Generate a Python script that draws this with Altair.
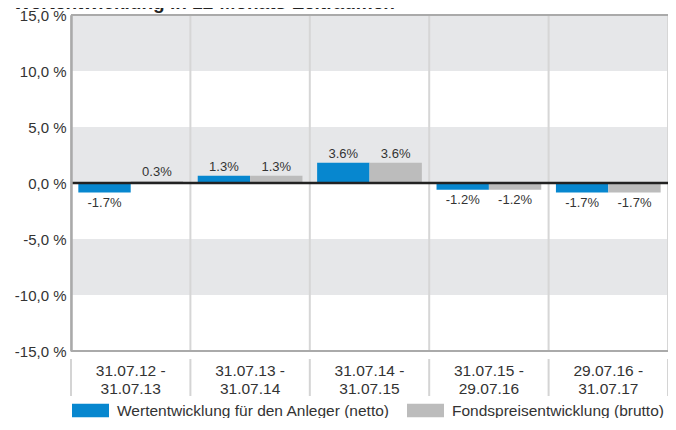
import altair as alt
import pandas as pd

title_text = "Wertentwicklung in 12-Monats-Zeiträumen"
period_start = ["31.07.12", "31.07.13", "31.07.14", "31.07.15", "29.07.16"]
period_end = ["31.07.13", "31.07.14", "31.07.15", "29.07.16", "31.07.17"]
netto = [-1.7, 1.3, 3.6, -1.2, -1.7]
brutto = [0.3, 1.3, 3.6, -1.2, -1.7]
series_names = ["Wertentwicklung für den Anleger (netto)", "Fondspreisentwicklung (brutto)"]
series_colors = ["#0787cf", "#bcbcbc"]
y_ticks = [-15, -10, -5, 0, 5, 10, 15]
band_lo = [10, 0, -10]
band_hi = [15, 5, -5]
border_values = [15, -15]

W, H = 597, 336
periods = [f"{s} - {e}" for s, e in zip(period_start, period_end)]

rows = []
for p, n, b in zip(periods, netto, brutto):
    for name, v in zip(series_names, (n, b)):
        rows.append({"period": p, "series": name, "value": v, "label": f"{v:.1f}%"})
df = pd.DataFrame(rows)
cat_df = pd.DataFrame({"period": periods})
band_df = pd.DataFrame({"lo": band_lo, "hi": band_hi})
border_df = pd.DataFrame({"b": border_values})
zero_df = pd.DataFrame({"z": [0]})
title_df = pd.DataFrame({"t": [title_text]})

axis_dom = alt.Scale(domain=[-15, 15], nice=False, zero=False)
bar_dom = alt.Scale(domain=[-30, 30], nice=False, zero=False)

x_axis = alt.Axis(
    title=None,
    labelExpr="[split(datum.label, ' - ')[0] + ' -', split(datum.label, ' - ')[1]]",
    labelAngle=0, labelFontSize=15.5, labelColor="#333333", labelLineHeight=18,
    domain=False, grid=False, ticks=False, labelPadding=12,
)
x_scale = alt.Scale(paddingInner=0, paddingOuter=0)

def xenc(**kw):
    return alt.X("period:N", sort=periods, scale=x_scale, axis=x_axis, **kw)

bands = alt.Chart(band_df).mark_rect(color="#e6e7e9").encode(
    x=alt.value(0), x2=alt.value(W),
    y=alt.Y("lo:Q", scale=axis_dom,
            axis=alt.Axis(title=None, values=y_ticks, ticks=False, grid=False,
                          domainColor="#aaaaaa", domainWidth=2.5, labelFontSize=15,
                          labelColor="#333333", labelPadding=5, zindex=1,
                          labelExpr="(datum.value < 0 ? '-' : '') + replace(format(abs(datum.value), '.1f'), '.', ',') + ' %'")),
    y2="hi:Q",
)

last_filter = f"datum.period == '{periods[-1]}'"

# category separators inside the plot
vrules = alt.Chart(cat_df).mark_rule(color="#d6d6d6", strokeWidth=2).encode(
    x=xenc(bandPosition=0),
)
vrules_end = alt.Chart(cat_df).transform_filter(last_filter).mark_rule(
    color="#d6d6d6", strokeWidth=2).encode(x=xenc(bandPosition=1))

# category separators in the label row below the plot
sep = alt.Chart(cat_df).mark_rule(color="#d4d4d4", strokeWidth=2).encode(
    x=xenc(bandPosition=0), y=alt.value(H + 8), y2=alt.value(H + 45),
)
sep_end = alt.Chart(cat_df).transform_filter(last_filter).mark_rule(
    color="#d4d4d4", strokeWidth=2).encode(
    x=xenc(bandPosition=1), y=alt.value(H + 8), y2=alt.value(H + 45),
)

borders = alt.Chart(border_df).mark_rule(color="#aaaaaa", strokeWidth=2).encode(
    y=alt.Y("b:Q", scale=axis_dom, axis=None),
)

offset_enc = alt.XOffset("series:N", sort=series_names,
                         scale=alt.Scale(paddingInner=0, paddingOuter=0.14))

bars = alt.Chart(df).mark_bar(opacity=1).encode(
    x=xenc(),
    xOffset=offset_enc,
    y=alt.Y("value:Q", scale=bar_dom, axis=None),
    color=alt.Color("series:N", sort=series_names,
                    scale=alt.Scale(domain=series_names, range=series_colors),
                    legend=alt.Legend(orient="none", legendX=1, legendY=377,
                                      direction="horizontal", title=None,
                                      symbolType="M-1,-0.36L1,-0.36L1,0.36L-1,0.36Z",
                                      symbolSize=1369, symbolStrokeWidth=0,
                                      symbolOpacity=1,
                                      labelFontSize=15.5, labelColor="#333333",
                                      labelOffset=8, columnPadding=17,
                                      labelLimit=400)),
)

text_pos = alt.Chart(df).transform_filter("datum.value >= 0").mark_text(
    baseline="bottom", dy=-2, fontSize=13, color="#333333").encode(
    x=xenc(), xOffset=offset_enc,
    y=alt.Y("value:Q", scale=bar_dom, axis=None),
    text="label:N",
)
text_neg = alt.Chart(df).transform_filter("datum.value < 0").mark_text(
    baseline="top", dy=4, fontSize=13, color="#333333").encode(
    x=xenc(), xOffset=offset_enc,
    y=alt.Y("value:Q", scale=bar_dom, axis=None),
    text="label:N",
)

zero = alt.Chart(zero_df).mark_rule(color="#222222", strokeWidth=2.5).encode(
    y=alt.Y("z:Q", scale=axis_dom, axis=None),
)

title = alt.Chart(title_df).mark_text(
    align="left", baseline="alphabetic", fontSize=19, fontWeight="bold",
    color="#222222").encode(
    text="t:N", x=alt.value(-58), y=alt.value(-6),
)

chart = alt.layer(
    bands, vrules, vrules_end, sep, sep_end, borders, bars, text_pos, text_neg,
    zero, title
).resolve_scale(y="independent").properties(
    width=W, height=H,
    autosize=alt.AutoSizeParams(type="none"),
    padding={"left": 63, "top": 7, "right": 0, "bottom": 67},
).configure(font="Liberation Sans").configure_view(stroke=None)

chart.save("out.html", embed_options={"renderer": "svg", "actions": False})
